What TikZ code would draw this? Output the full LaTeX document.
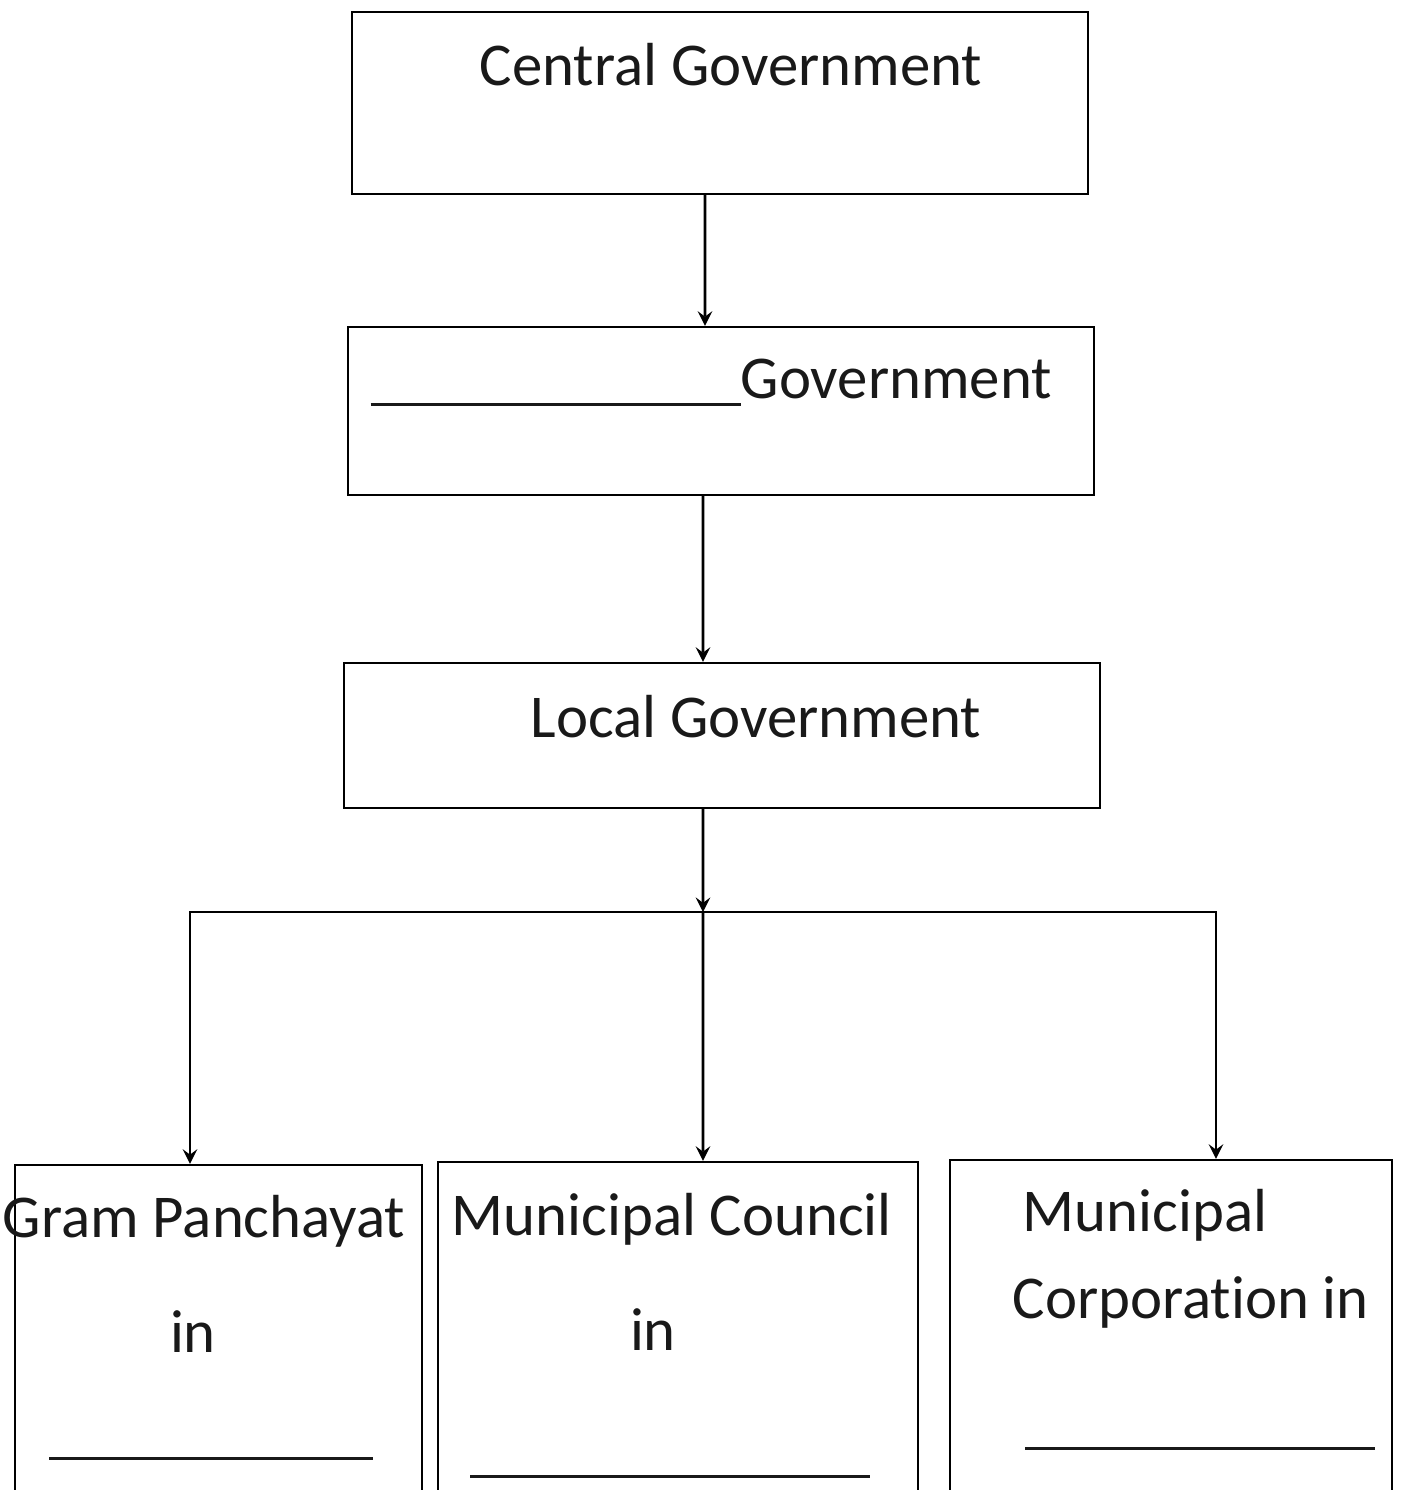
\documentclass[tikz,border=0pt]{standalone}
\usepackage{fontspec}
\setmainfont{Carlito}[Ligatures=NoCommon]
\usepackage{tikz}
\usetikzlibrary{shapes.geometric, arrows}
\tikzstyle{govbox} = [rectangle, draw=black, line width=0.7pt, inner sep=0pt]
\tikzstyle{label} = [inner sep=0pt, anchor=base, text=black!90]
\tikzstyle{arrow} = [thick,->,>=stealth]
\newcommand{\blank}[1]{\rule[-0.8mm]{#1}{0.3mm}}

\begin{document}
\begin{tikzpicture}[x=0.1mm, y=-0.1mm, font=\fontsize{17.3}{21}\selectfont]
\useasboundingbox (0,0) rectangle (1410,1490);
% boxes
\node (central) [govbox, minimum width=73.6mm, minimum height=18.2mm] at (720,103) {};
\node (state) [govbox, minimum width=74.6mm, minimum height=16.8mm] at (721,411) {};
\node (local) [govbox, minimum width=75.6mm, minimum height=14.5mm] at (722,735.5) {};
\node (gram) [govbox, minimum width=40.7mm, minimum height=39.5mm] at (218.5,1362.5) {};
\node (council) [govbox, minimum width=48mm, minimum height=39.8mm] at (678,1361) {};
\node (corp) [govbox, minimum width=44.2mm, minimum height=40mm] at (1171,1360) {};
% texts
\node (centraltxt) [label] at (731,85) {Central Government};
\node (statetxt) [label, anchor=base west] at (370,398) {\blank{37mm}Government};
\node (localtxt) [label] at (756,737) {Local Government};
\node (gramtxt) [label] at (204,1237) {Gram Panchayat};
\node (gramin) [label] at (193,1352) {in};
\node (gramline) [label] at (211,1452) {\blank{32.4mm}};
\node (counciltxt) [label] at (672,1235) {Municipal Council};
\node (councilin) [label] at (653,1350) {in};
\node (councilline) [label] at (670,1470) {\blank{40mm}};
\node (corptxt) [label, anchor=base west] at (1022,1231) {Municipal};
\node (corpin) [label, anchor=base west] at (1012,1318) {Corporation in};
\node (corpline) [label] at (1200,1442) {\blank{35mm}};
% connectors
\coordinate (split) at (703,912);
\draw [arrow] ([xshift=-1.5mm]central.south) -- ([xshift=-1.6mm]state.north);
\draw [arrow] ([xshift=-1.8mm]state.south) -- ([xshift=-1.9mm]local.north);
\draw [arrow] ([xshift=-1.9mm]local.south) -- (split);
\draw [arrow] (split) -| ([xshift=-2.85mm]gram.north);
\draw [arrow] (split) -- ([xshift=2.5mm]council.north);
\draw [arrow] (split) -| ([xshift=4.5mm]corp.north);
\end{tikzpicture}
\end{document}
